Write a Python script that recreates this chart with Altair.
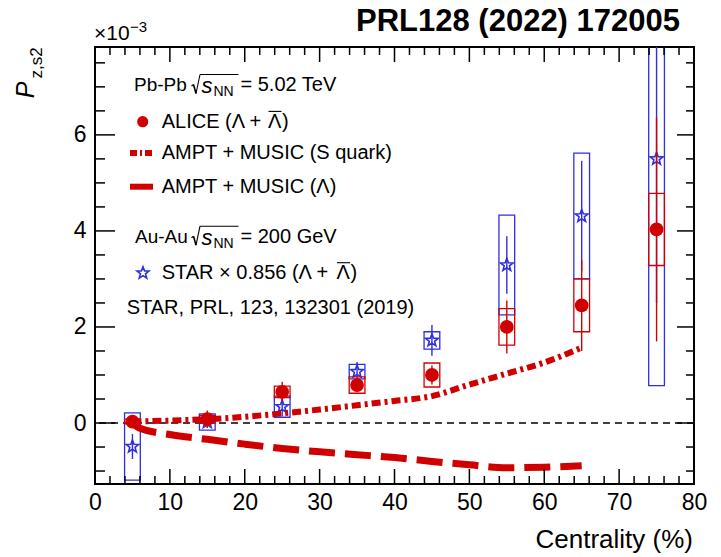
import altair as alt
import numpy as np
import pandas as pd

# ---------------- data: P_z,s2 in units of 1e-3 ----------------
centrality = [5, 15, 25, 35, 45, 55, 65, 75]

# ALICE (Lambda + anti-Lambda), Pb-Pb 5.02 TeV
alice_val = [0.03, 0.08, 0.65, 0.79, 1.00, 2.00, 2.45, 4.03]
alice_stat = [0.08, 0.18, 0.21, 0.15, 0.20, 0.55, 0.95, 2.33]
alice_sys = [0.05, 0.08, 0.12, 0.17, 0.25, 0.38, 0.55, 0.75]

# STAR x 0.856, Au-Au 200 GeV
star_val = [-0.49, 0.02, 0.34, 1.07, 1.72, 3.29, 4.31, 5.50]
star_stat = [0.26, 0.12, 0.20, 0.20, 0.32, 0.60, 1.15, 3.00]
star_sys = [0.70, 0.17, 0.22, 0.15, 0.18, 1.04, 1.31, 4.72]

# AMPT + MUSIC model curves
squark_cent = [5, 10, 15, 20, 25, 30, 35, 40, 45, 50, 55, 60, 65]
squark_val = [0.03, 0.05, 0.08, 0.13, 0.20, 0.28, 0.37, 0.46, 0.56, 0.80, 1.03, 1.26, 1.57]
lambda_cent = [5, 6, 10, 15, 20, 25, 30, 35, 40, 45, 50, 55, 60, 65]
lambda_val = [0.0, -0.11, -0.24, -0.34, -0.44, -0.53, -0.60, -0.66, -0.72, -0.80, -0.87, -0.93, -0.92, -0.89]

x_labels = [0, 10, 20, 30, 40, 50, 60, 70, 80]
y_labels = [0, 2, 4, 6]

# ---------------- layout / style ----------------
W, H = 599, 437          # plot frame
OX, OY = 95, 47          # frame origin inside the page
FONT = "Liberation Sans"
RED = "#d10000"
BLUE = "#2f2fe0"
BOX_HW = 1.05            # half width of the systematic boxes (centrality units)

xs = alt.Scale(domain=[0, 80], nice=False, zero=False)
ys = alt.Scale(domain=[-1.27, 7.83], nice=False, zero=False)
xaxis = alt.Axis(values=x_labels, labelFontSize=23, labelPadding=7, title=None, labelFlush=False,
                 ticks=False, domain=False, grid=False, labelFont=FONT, labelColor="black")
yaxis = alt.Axis(values=y_labels, labelFontSize=23, labelPadding=9, title=None, labelFlush=False,
                 ticks=False, domain=False, grid=False, labelFont=FONT, labelColor="black")


def X(f):
    return alt.X(f, type="quantitative", scale=xs, axis=xaxis)


def Y(f):
    return alt.Y(f, type="quantitative", scale=ys, axis=yaxis)


alice = pd.DataFrame({"c": centrality, "v": alice_val, "stat": alice_stat, "sys": alice_sys})
star = pd.DataFrame({"c": centrality, "v": star_val, "stat": star_stat, "sys": star_sys})
squark = pd.DataFrame({"c": squark_cent, "v": squark_val})
lam = pd.DataFrame({"c": lambda_cent, "v": lambda_val})


def with_bounds(df):
    return alt.Chart(df).transform_calculate(
        x0=f"datum.c - {BOX_HW}", x1=f"datum.c + {BOX_HW}",
        s0="datum.v - datum.sys", s1="datum.v + datum.sys",
        e0="datum.v - datum.stat", e1="datum.v + datum.stat",
    )


def boxes(df, color):
    return with_bounds(df).mark_rect(filled=False, stroke=color, strokeWidth=1.3, clip=True).encode(
        x=X("x0"), x2="x1", y=Y("s0"), y2="s1")


def errs(df, color):
    return with_bounds(df).mark_rule(color=color, strokeWidth=1.4, clip=True).encode(
        x=X("c"), y=Y("e0"), y2="e1")


# five-pointed star symbol
ang = np.deg2rad(-90 + 36 * np.arange(10))
rad = np.where(np.arange(10) % 2 == 0, 1.0, 0.42)
STAR_PATH = "M" + " L".join(f"{r * np.cos(a):.3f},{r * np.sin(a):.3f}" for r, a in zip(rad, ang)) + " Z"

zero = alt.Chart(pd.DataFrame({"z": [0.0]})).mark_rule(
    color="black", strokeWidth=1.5, strokeDash=[7, 5]).encode(y=Y("z"))

star_boxes = boxes(star, BLUE)
star_errs = errs(star, BLUE)
star_pts = alt.Chart(star).mark_point(shape=STAR_PATH, size=175, filled=False, color=BLUE,
                                      strokeWidth=1.6, opacity=1).encode(x=X("c"), y=Y("v"))

squark_line = alt.Chart(squark).mark_line(color=RED, strokeWidth=6, strokeDash=[9, 4, 3, 4],
                                          interpolate="monotone", strokeCap="butt").encode(
    x=X("c"), y=Y("v"))
lambda_line = alt.Chart(lam).mark_line(color=RED, strokeWidth=7, strokeDash=[26, 10],
                                       interpolate="monotone", strokeCap="butt").encode(
    x=X("c"), y=Y("v"))

alice_boxes = boxes(alice, RED)
alice_errs = errs(alice, RED)
alice_pts = alt.Chart(alice).mark_point(shape="circle", size=190, filled=True, color=RED,
                                        opacity=1).encode(x=X("c"), y=Y("v"))

# ---------------- frame ticks (mirrored on all four sides, pointing inward) ----------------
x_major = np.arange(0, 81, 10)
x_minor = np.array([v for v in np.arange(0, 81, 2) if v % 10 != 0])
y_major = np.array(y_labels)
y_minor = np.array([v for v in np.arange(-1.0, 7.51, 0.5) if v not in y_labels])


def xticks(vals, y0, y1):
    return alt.Chart(pd.DataFrame({"t": vals})).mark_rule(color="black", strokeWidth=1.5).encode(
        x=X("t"), y=alt.value(y0), y2=alt.value(y1))


def yticks(vals, x0, x1):
    return alt.Chart(pd.DataFrame({"t": vals})).mark_rule(color="black", strokeWidth=1.5).encode(
        y=Y("t"), x=alt.value(x0), x2=alt.value(x1))


ticks = [
    xticks(x_major, H, H - 15), xticks(x_minor, H, H - 8),
    xticks(x_major, 0, 15), xticks(x_minor, 0, 8),
    yticks(y_major, 0, 20), yticks(y_minor, 0, 10),
    yticks(y_major, W, W - 17), yticks(y_minor, W, W - 8),
]

# ---------------- texts and legend (page pixel positions) ----------------
one = pd.DataFrame({"k": [0]})


def text(txt, x, y, size=20, align="left", **kw):
    return alt.Chart(one).mark_text(align=align, baseline="middle", font=FONT, fontSize=size,
                                    color="black", **kw).encode(
        x=alt.value(x - OX), y=alt.value(y - OY), text=alt.value(txt))


def seg(x0, y0, x1, y1, color="black", width=1.2, **kw):
    return alt.Chart(one).mark_rule(color=color, strokeWidth=width, **kw).encode(
        x=alt.value(x0 - OX), x2=alt.value(x1 - OX), y=alt.value(y0 - OY), y2=alt.value(y1 - OY))


def hline(x0, x1, y, **kw):
    return seg(x0, y, x1, y, **kw)


def marker(x, y, **kw):
    return alt.Chart(one).mark_point(opacity=1, **kw).encode(
        x=alt.value(x - OX), y=alt.value(y - OY))


def sqrt_s(y):
    # radical sign drawn as strokes, then italic s with subscript NN
    return [
        seg(191.5, y + 1, 193.5, y - 0.5, width=1.1),
        seg(193.5, y - 0.5, 196.0, y + 8.5, width=1.6),
        seg(196.0, y + 8.5, 200.0, y - 10.5, width=1.1),
        hline(200.0, 238.5, y - 10.5, width=1.1),
        text("s", 201.5, y + 1, size=22, fontStyle="italic"),
        text("NN", 213.5, y + 7, size=14),
    ]


def bar_lambda(x, y):
    # anti-Lambda: letter with an overline
    return [text("\u039b", x, y), hline(x + 0.5, x + 13.5, y - 10.3, width=1.1)]


texts = [
    text("PRL128 (2022) 172005", 518, 22, size=31, align="center", fontWeight="bold"),
    text("\u00d710", 94, 34, size=21),
    text("\u22123", 130, 27, size=15),
    text("P", 26, 90, size=25, angle=270, align="center", fontStyle="italic"),
    text("z,s2", 37, 63, size=17, angle=270, align="center"),
    text("Centrality (%)", 693, 540, size=26, align="right"),
    # Pb-Pb block
    text("Pb-Pb", 134, 85, size=19),
    *sqrt_s(85),
    text("= 5.02 TeV", 240.5, 85),
    marker(142.7, 121.7, shape="circle", size=125, filled=True, color=RED),
    text("ALICE (\u039b +", 161.7, 121.7),
    *bar_lambda(268.0, 121.7),
    text(")", 282.0, 121.7),
    hline(130, 153, 153, color=RED, width=6, strokeDash=[7, 3, 2, 3], strokeCap="butt"),
    text("AMPT + MUSIC (S quark)", 161.7, 153),
    hline(130, 153, 186.7, color=RED, width=6, strokeCap="butt"),
    text("AMPT + MUSIC (\u039b)", 161.7, 186.7),
    # Au-Au block
    text("Au-Au", 135, 236.7, size=19),
    *sqrt_s(236.7),
    text("= 200 GeV", 240.5, 236.7),
    marker(143, 273, shape=STAR_PATH, size=160, filled=False, color=BLUE, strokeWidth=1.6),
    text("STAR \u00d7 0.856 (\u039b +", 161.7, 273),
    *bar_lambda(336.5, 273),
    text(")", 350.5, 273),
    text("STAR, PRL, 123, 132301 (2019)", 126.7, 308),
]

chart = alt.layer(
    zero, star_boxes, star_errs, star_pts,
    squark_line, lambda_line,
    alice_boxes, alice_errs, alice_pts,
    *ticks, *texts,
).properties(
    width=W, height=H,
    autosize=alt.AutoSizeParams(type="none"),
    padding={"left": OX, "top": OY, "right": 721 - OX - W, "bottom": 557 - OY - H},
    background="white",
).configure_view(stroke="black", strokeWidth=2)

chart.save("out.html", embed_options={"renderer": "svg", "actions": False})
